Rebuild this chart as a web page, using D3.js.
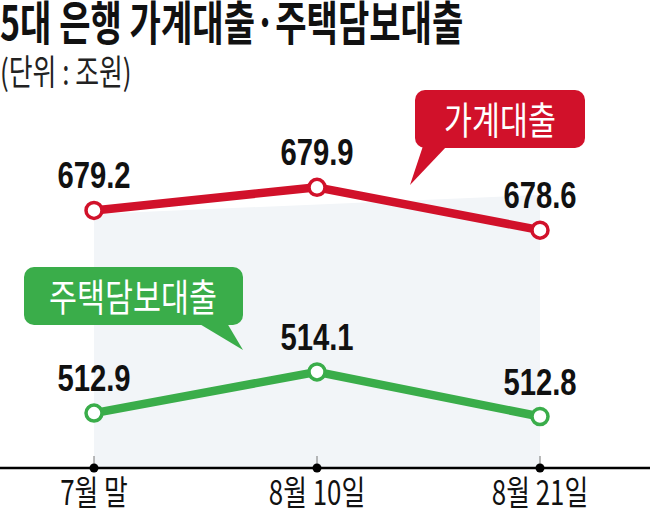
<!DOCTYPE html>
<html>
<head>
<meta charset="utf-8">
<script src="https://cdn.jsdelivr.net/npm/d3@7"></script>
<style>
  body { margin: 0; background: #fff; }
  svg { display: block; }
</style>
</head>
<body>
<div id="chart"></div>
<script>
// data
const dates = ["7월 말", "8월 10일", "8월 21일"];
const household = [679.2, 679.9, 678.6];   // 가계대출
const mortgage = [512.9, 514.1, 512.8];    // 주택담보대출

const width = 650, height = 515;
const red = "#d1112a", green = "#3aad4a", shade = "#f2f5f8";
const krFont = "'Noto Sans CJK KR', 'Noto Sans', sans-serif";
const numFont = "'Liberation Sans Narrow', 'Arial Narrow', 'Liberation Sans', Arial, sans-serif";

const svg = d3.select("#chart")
  .append("svg")
  .attr("width", width)
  .attr("height", height);

// squeeze text horizontally like the condensed newspaper font
function condense(sel, factor) {
  sel.each(function () {
    const len = this.getComputedTextLength();
    d3.select(this)
      .attr("textLength", len * factor)
      .attr("lengthAdjust", "spacingAndGlyphs");
  });
}

// scales (chart is not drawn to one common scale, each series gets its own)
const x = d3.scalePoint().domain(dates).range([94, 540]);
const yRed = d3.scaleLinear().domain([678, 680]).range([250, 184]);
const yGreen = d3.scaleLinear().domain([512, 515]).range([444, 341]);
const axisY = 468;

// background shading
svg.append("path")
  .attr("d", `M${x(dates[0])},214 L${x(dates[2])},195 L${x(dates[2])},${axisY} L${x(dates[0])},${axisY} Z`)
  .attr("fill", shade);

// tick lines
svg.selectAll(".tick-line")
  .data(dates)
  .join("line")
  .attr("x1", d => x(d)).attr("x2", d => x(d))
  .attr("y1", axisY - 12).attr("y2", axisY)
  .attr("stroke", "#777")
  .attr("stroke-width", 1);

// axis
svg.append("line")
  .attr("x1", 0).attr("x2", width)
  .attr("y1", axisY).attr("y2", axisY)
  .attr("stroke", "#000")
  .attr("stroke-width", 2.5);

svg.selectAll(".tick-dot")
  .data(dates)
  .join("circle")
  .attr("cx", d => x(d))
  .attr("cy", axisY)
  .attr("r", 4.5)
  .attr("fill", "#000");

svg.selectAll(".x-label")
  .data(dates)
  .join("text")
  .attr("x", d => x(d))
  .attr("y", 505)
  .attr("text-anchor", "middle")
  .attr("font-family", krFont)
  .attr("font-size", 34)
  .attr("fill", "#111")
  .text(d => d)
  .call(condense, 0.76);

// series
function drawSeries(values, yScale, color) {
  const pts = values.map((v, i) => ({ date: dates[i], value: v }));
  const line = d3.line().x(d => x(d.date)).y(d => yScale(d.value));

  svg.append("path")
    .datum(pts)
    .attr("d", line)
    .attr("fill", "none")
    .attr("stroke", color)
    .attr("stroke-width", 8.5)
    .attr("stroke-linejoin", "round");

  svg.selectAll(null)
    .data(pts)
    .join("circle")
    .attr("cx", d => x(d.date))
    .attr("cy", d => yScale(d.value))
    .attr("r", 8)
    .attr("fill", "#fff")
    .attr("stroke", color)
    .attr("stroke-width", 3.5);

  svg.selectAll(null)
    .data(pts)
    .join("text")
    .attr("x", d => x(d.date))
    .attr("y", d => yScale(d.value) - 22)
    .attr("text-anchor", "middle")
    .attr("font-family", numFont)
    .attr("font-weight", "bold")
    .attr("font-size", 37)
    .attr("fill", "#111")
    .text(d => d.value.toFixed(1))
    .call(condense, 0.79);
}

drawSeries(household, yRed, red);
drawSeries(mortgage, yGreen, green);

// callouts
function callout(box, tail, color, label, textX, textY) {
  const g = svg.append("g");
  g.append("rect")
    .attr("x", box[0]).attr("y", box[1])
    .attr("width", box[2]).attr("height", box[3])
    .attr("rx", 10)
    .attr("fill", color);
  g.append("path")
    .attr("d", "M" + tail.map(p => p.join(",")).join("L") + "Z")
    .attr("fill", color);
  g.append("text")
    .attr("x", textX).attr("y", textY)
    .attr("text-anchor", "middle")
    .attr("font-family", krFont)
    .attr("font-size", 38)
    .attr("fill", "#fff")
    .text(label)
    .call(condense, 0.8);
}

callout([415, 90, 170, 58], [[423, 146], [447, 146], [410, 185]], red, "가계대출", 500, 134);
callout([24, 267, 219, 58], [[198, 323], [227, 323], [243, 350]], green, "주택담보대출", 133, 311);

// titles
svg.append("text")
  .attr("x", 0).attr("y", 40)
  .attr("font-family", krFont)
  .attr("font-weight", "bold")
  .attr("font-size", 47)
  .attr("fill", "#111")
  .text("5대 은행 가계대출·주택담보대출")
  .call(condense, 0.725);

svg.append("text")
  .attr("x", 0).attr("y", 85)
  .attr("font-family", krFont)
  .attr("font-size", 35)
  .attr("fill", "#222")
  .text("(단위 : 조원)")
  .call(condense, 0.74);
</script>
</body>
</html>
